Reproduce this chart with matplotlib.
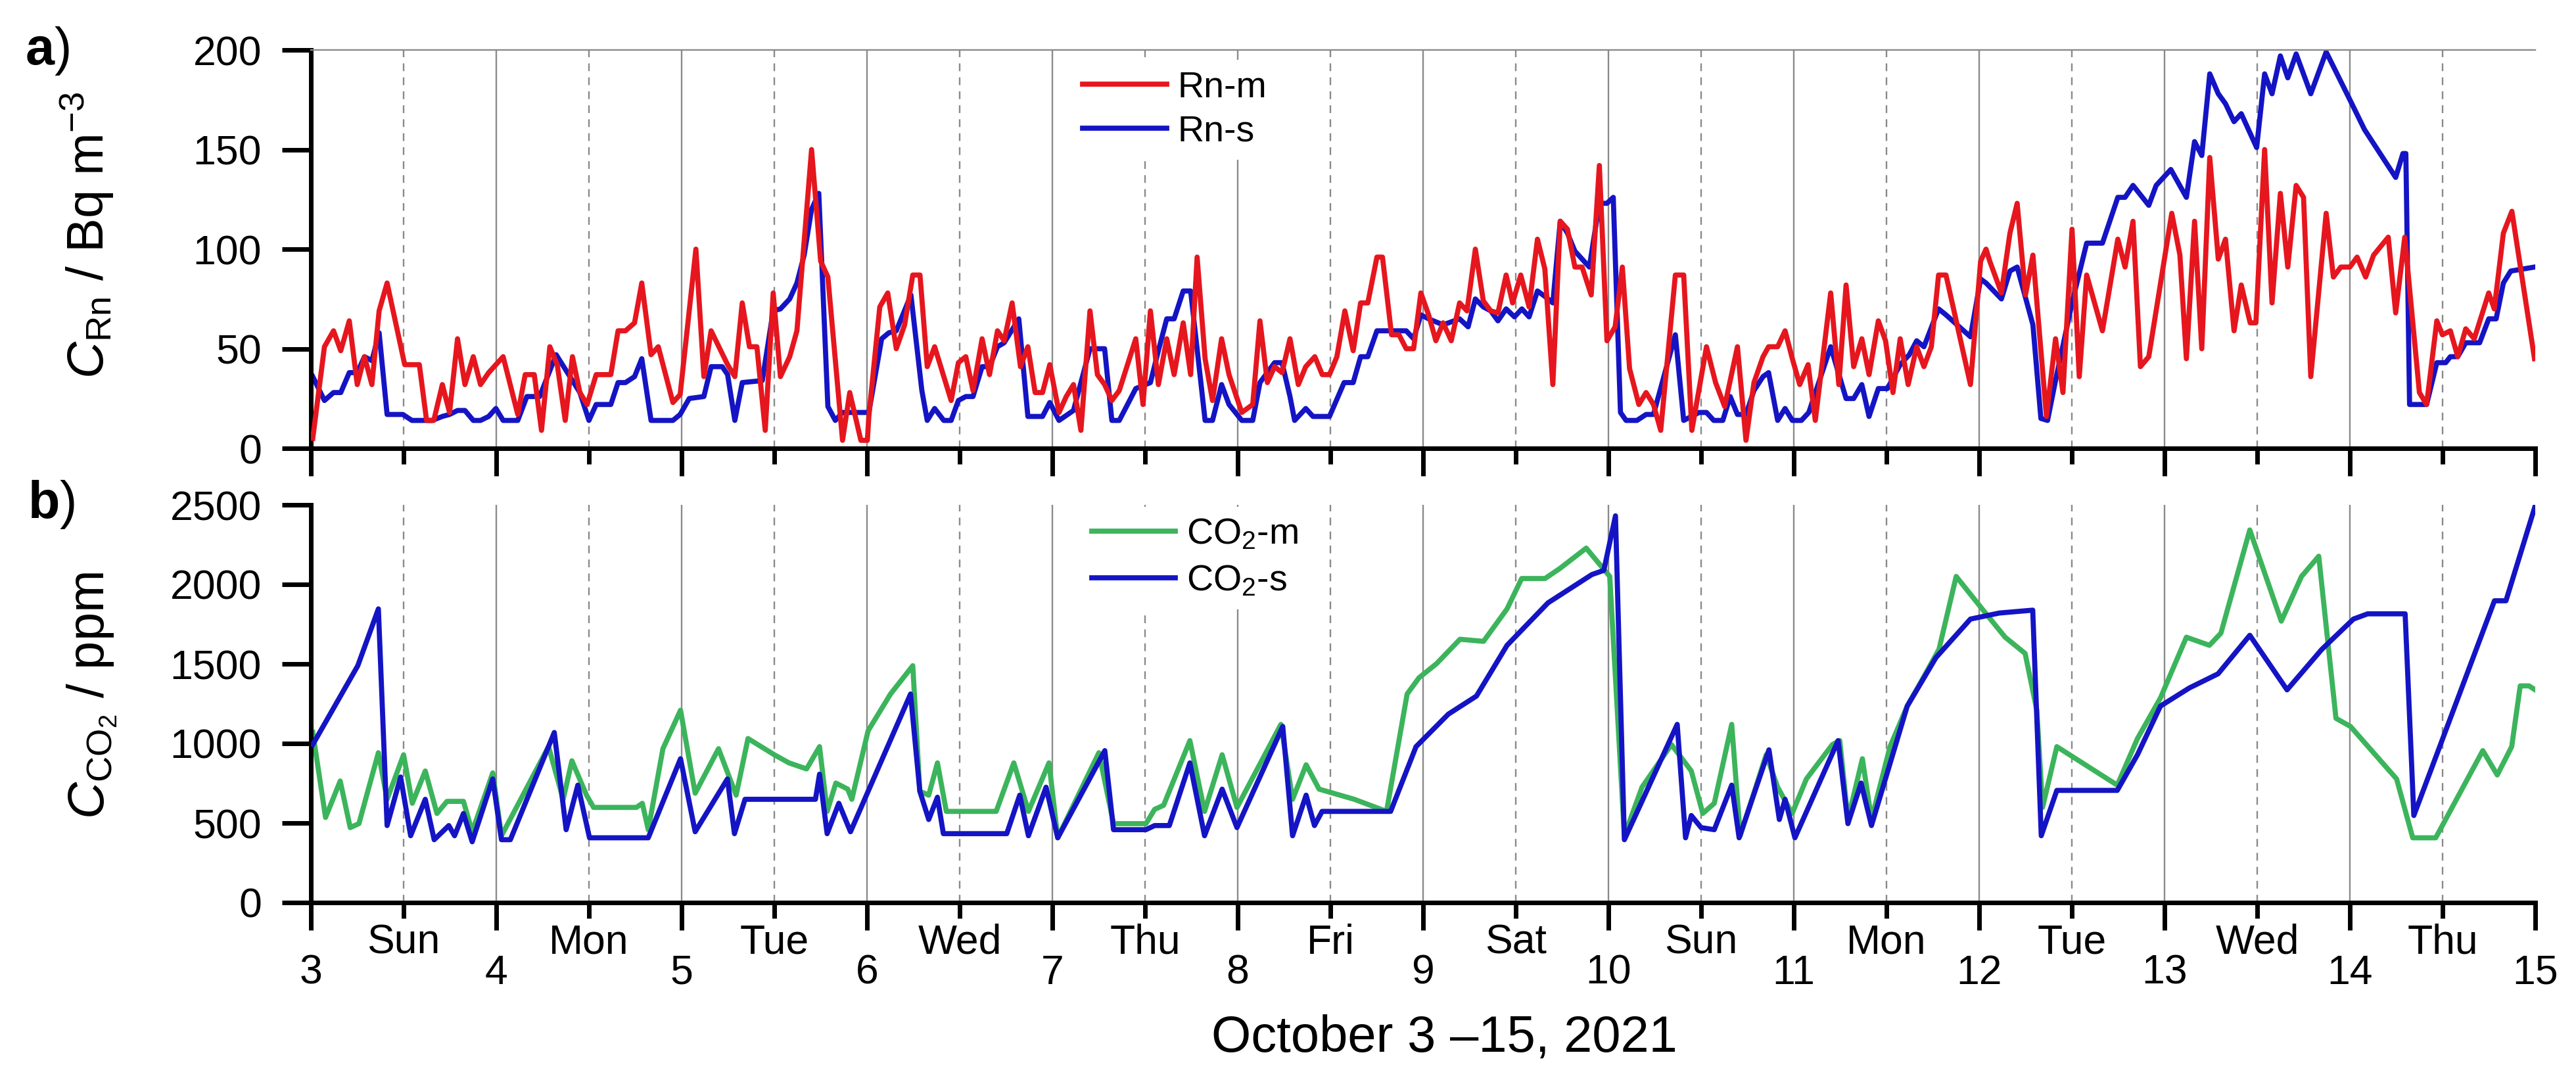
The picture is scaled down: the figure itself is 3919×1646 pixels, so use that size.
import matplotlib
matplotlib.use("Agg")
import matplotlib.pyplot as plt

plt.rcParams['font.family'] = ['Liberation Sans', 'DejaVu Sans']
plt.rcParams['mathtext.fontset'] = 'custom'
plt.rcParams['mathtext.rm'] = 'Liberation Sans'
plt.rcParams['mathtext.it'] = 'Liberation Sans:italic'
plt.rcParams['mathtext.bf'] = 'Liberation Sans:bold'

# ---------------- data ----------------
day_ticks = list(range(3, 16))
day_labels = [str(d) for d in day_ticks]
weekday_ticks = [d + 0.5 for d in range(3, 15)]
weekday_labels = ["Sun", "Mon", "Tue", "Wed", "Thu", "Fri", "Sat",
                  "Sun", "Mon", "Tue", "Wed", "Thu"]

rn_m_t = [3.01, 3.073, 3.122, 3.161, 3.207, 3.250, 3.289, 3.329, 3.368, 3.411, 3.506, 3.585, 3.624, 3.663,
          3.709, 3.748, 3.791, 3.831, 3.876, 3.915, 3.959, 3.998, 4.037, 4.116, 4.156, 4.205, 4.244, 4.289,
          4.329, 4.372, 4.411, 4.451, 4.490, 4.539, 4.618, 4.657, 4.697, 4.746, 4.785, 4.835, 4.874, 4.953,
          4.992, 5.077, 5.120, 5.159, 5.248, 5.287, 5.327, 5.366, 5.406, 5.451, 5.494, 5.533, 5.583, 5.622,
          5.701, 5.750, 5.789, 5.868, 5.907, 5.967, 6.002,
          6.010, 6.069, 6.112, 6.158, 6.203, 6.247, 6.286, 6.325, 6.365, 6.454, 6.493, 6.533, 6.572, 6.621,
          6.661, 6.704, 6.740, 6.783, 6.828, 6.868, 6.907, 6.947, 6.986, 7.036, 7.075, 7.114, 7.154, 7.203,
          7.243, 7.282, 7.321, 7.361, 7.450, 7.489, 7.529, 7.572, 7.617, 7.657, 7.706, 7.746, 7.781, 7.824,
          7.864, 7.913, 7.953, 8.022, 8.081, 8.120, 8.160, 8.199, 8.239, 8.282, 8.327, 8.367, 8.416, 8.456,
          8.495, 8.535, 8.578, 8.623, 8.663, 8.702, 8.751, 8.781, 8.830, 8.870, 8.909, 8.949, 8.988,
          9.030, 9.069, 9.108, 9.152, 9.197, 9.237, 9.282, 9.325, 9.365, 9.404, 9.448, 9.483, 9.527, 9.572,
          9.617, 9.657, 9.700, 9.740, 9.779, 9.819, 9.858, 9.907, 9.951, 9.992, 10.036, 10.075, 10.114,
          10.164, 10.203, 10.243, 10.282, 10.361, 10.406, 10.450, 10.529, 10.578, 10.627, 10.696, 10.742,
          10.785, 10.834, 10.864, 10.913, 10.953, 10.992, 11.032, 11.077, 11.116, 11.199, 11.243, 11.282,
          11.323, 11.367, 11.406, 11.456, 11.495, 11.535, 11.574, 11.617, 11.663, 11.702, 11.742, 11.781,
          11.821, 11.953, 12.008, 12.037,
          12.057, 12.120, 12.166, 12.205, 12.250, 12.290, 12.363, 12.412, 12.452, 12.501, 12.540, 12.580,
          12.665, 12.748, 12.787, 12.830, 12.870, 12.915, 13.039, 13.083, 13.118, 13.162, 13.201, 13.244,
          13.290, 13.329, 13.375, 13.414, 13.462, 13.493, 13.540, 13.580, 13.625, 13.665, 13.710, 13.750,
          13.789, 13.872, 13.911, 13.951, 14.000, 14.039, 14.085, 14.128, 14.207, 14.247, 14.296, 14.375,
          14.414, 14.469, 14.499, 14.542, 14.582, 14.625, 14.671, 14.749, 14.779, 14.828, 14.874, 14.996]
rn_m_v = [5, 51, 59, 49, 64, 32, 46, 32, 69, 83, 42, 42, 14, 14,
          32, 18, 55, 32, 46, 32, 38, 42, 46, 17, 37, 37, 9, 51,
          42, 14, 46, 28, 22, 37, 37, 59, 59, 63, 83, 47, 51, 23,
          27, 100, 36, 59, 42, 36, 73, 51, 51, 9, 78, 36, 46, 59,
          150, 94, 86, 4, 28, 4, 4,
          16, 71, 78, 50, 62, 87, 87, 41, 51, 24, 43, 46, 29, 55,
          37, 59, 54, 73, 41, 51, 28, 28, 42, 18, 26, 32, 9, 69,
          37, 32, 24, 29, 55, 22, 69, 32, 55, 37, 63, 37, 96, 45,
          24, 55, 37, 18, 22, 64, 33, 41, 38, 55, 32, 41, 46, 37,
          37, 46, 69, 49, 73, 73, 96, 96, 57, 57, 50, 50, 78,
          67, 54, 63, 54, 73, 69, 100, 74, 69, 68, 87, 73, 87, 71,
          105, 90, 32, 114, 110, 91, 91, 77, 142, 54, 61, 91, 40,
          22, 28, 22, 9, 87, 87, 9, 51, 33, 21, 51, 4,
          33, 46, 51, 51, 59, 45, 32, 42, 14, 78, 32, 82,
          41, 55, 37, 64, 54, 28, 55, 32, 51, 41, 51, 87,
          87, 32, 94, 100,
          94, 78, 108, 123, 77, 97, 16, 55, 28, 110, 36, 87,
          59, 105, 91, 114, 41, 46, 118, 97, 45, 114, 50, 146,
          95, 105, 59, 82, 63, 63, 150, 73, 128, 91, 132, 126,
          36, 118, 86, 91, 91, 96, 86, 97, 106, 68, 106, 28,
          22, 64, 57, 59, 46, 60, 55, 78, 70, 108, 119, 45]

rn_s_t = [3.01, 3.073, 3.122, 3.161, 3.207, 3.250, 3.289, 3.329, 3.368, 3.411, 3.496, 3.545, 3.654, 3.709,
          3.748, 3.791, 3.831, 3.876, 3.915, 3.959, 3.998, 4.037, 4.116, 4.165, 4.234, 4.323, 4.411, 4.451,
          4.500, 4.539, 4.618, 4.657, 4.697, 4.746, 4.785, 4.835, 4.953, 4.992, 5.041, 5.120, 5.159, 5.219,
          5.248, 5.287, 5.327, 5.435, 5.494, 5.533, 5.583, 5.622, 5.661, 5.701, 5.740, 5.789, 5.829, 5.868,
          5.986,
          6.010, 6.079, 6.118, 6.158, 6.237, 6.296, 6.325, 6.365, 6.414, 6.454, 6.493, 6.533, 6.572, 6.621,
          6.661, 6.704, 6.740, 6.819, 6.868, 6.947, 6.986, 7.036, 7.114, 7.203, 7.282, 7.321, 7.361, 7.450,
          7.529, 7.572, 7.617, 7.657, 7.706, 7.746, 7.824, 7.864, 7.913, 7.953, 8.022, 8.081, 8.120, 8.199,
          8.239, 8.282, 8.307, 8.367, 8.406, 8.495, 8.574, 8.623, 8.663, 8.702, 8.751, 8.909, 8.949, 8.988,
          9.030, 9.108, 9.197, 9.243, 9.282, 9.325, 9.365, 9.404, 9.448, 9.493, 9.533, 9.572, 9.617, 9.661,
          9.700, 9.740, 9.779, 9.819, 9.858, 9.897, 9.951, 9.992, 10.026, 10.065, 10.095, 10.154, 10.203,
          10.243, 10.361, 10.406, 10.489, 10.529, 10.568, 10.617, 10.657, 10.696, 10.742, 10.785, 10.834,
          10.864, 10.913, 10.953, 10.992, 11.041, 11.081, 11.199, 11.282, 11.323, 11.367, 11.406, 11.456,
          11.505, 11.574, 11.623, 11.663, 11.702, 11.781, 11.821, 11.953, 12.008, 12.037,
          12.120, 12.166, 12.205, 12.290, 12.333, 12.369, 12.412, 12.501, 12.580, 12.665, 12.748, 12.787,
          12.830, 12.915, 12.955, 13.034, 13.118, 13.162, 13.201, 13.244, 13.290, 13.329, 13.375, 13.414,
          13.497, 13.540, 13.580, 13.625, 13.665, 13.710, 13.789, 13.872, 14.000, 14.079, 14.247, 14.286,
          14.302, 14.322, 14.414, 14.469, 14.517, 14.542, 14.582, 14.625, 14.700, 14.749, 14.789, 14.828,
          14.868, 14.996]
rn_s_v = [36, 24, 28, 28, 38, 38, 46, 44, 58, 17, 17, 14, 14, 16,
          17, 19, 19, 14, 14, 16, 20, 14, 14, 26, 26, 47, 34, 28,
          14, 22, 22, 33, 33, 36, 45, 14, 14, 17, 25, 26, 41, 41,
          37, 14, 33, 34, 69, 70, 75, 83, 97, 120, 128, 21, 14, 18,
          18,
          18, 55, 58, 59, 77, 29, 14, 20, 14, 14, 24, 26, 26, 41,
          41, 51, 53, 65, 16, 16, 23, 14, 19, 50, 50, 14, 14, 30,
          33, 49, 65, 65, 79, 79, 14, 14, 32, 22, 14, 14, 33, 43,
          43, 26, 14, 20, 16, 16, 33, 33, 46, 46, 59, 59, 55, 67,
          65, 62, 65, 61, 75, 71, 69, 64, 70, 66, 70, 66, 79, 76,
          73, 114, 108, 99, 95, 91, 123, 123, 126, 18, 14, 14, 17,
          17, 57, 14, 18, 18, 14, 14, 26, 17, 17, 29, 36,
          38, 14, 20, 14, 14, 18, 51, 25, 25, 32, 16, 30,
          30, 42, 47, 54, 51, 70, 67, 56, 85, 83,
          75, 89, 91, 62, 15, 14, 34, 73, 103, 103, 126, 126,
          132, 122, 132, 140, 126, 154, 147, 188, 178, 173, 164, 168,
          151, 188, 178, 197, 186, 198, 178, 199, 175, 160, 136, 148,
          148, 22, 22, 43, 43, 46, 46, 53, 53, 65, 65, 83,
          89, 91]

co2_m_t = [3.01, 3.079, 3.158, 3.212, 3.259, 3.364, 3.411, 3.500, 3.547, 3.617, 3.680, 3.734, 3.823,
           3.870, 3.981, 4.028, 4.282, 4.361, 4.408, 4.487, 4.525, 4.756, 4.788, 4.820, 4.899, 4.994,
           5.073, 5.199, 5.294, 5.358, 5.500, 5.579, 5.674, 5.744, 5.785, 5.832, 5.896, 5.918, 6.006,
           6.127, 6.247, 6.285, 6.333, 6.380, 6.428, 6.697, 6.792, 6.871, 6.982, 7.029, 7.251, 7.330,
           7.505, 7.552, 7.600, 7.742, 7.821, 7.916, 7.996, 8.233, 8.296, 8.369, 8.439, 8.629, 8.803,
           8.914, 8.978, 9.073, 9.199, 9.326, 9.453, 9.532, 9.658, 9.738, 9.880, 10.007, 10.086, 10.181,
           10.340, 10.447, 10.509, 10.571, 10.665, 10.711, 10.851, 10.913, 10.991, 11.068, 11.208, 11.248,
           11.292, 11.370, 11.419, 11.519, 11.612, 11.674, 11.783, 11.876, 12.016, 12.140, 12.248, 12.311,
           12.342, 12.419, 12.745, 12.854, 12.978, 13.071, 13.118, 13.242, 13.304, 13.460, 13.630, 13.739,
           13.832, 13.925, 14.003, 14.252, 14.339, 14.463, 14.717, 14.795, 14.873, 14.919, 14.966, 15.0]
co2_m_v = [1070, 535, 764, 471, 496, 942, 649, 929, 624, 827, 560, 636, 636,
           445, 815, 420, 980, 649, 891, 675, 598, 598, 624, 458, 967, 1209,
           687, 967, 675, 1031, 929, 878, 840, 980, 573, 751, 713, 649, 1080,
           1311, 1489, 700, 675, 878, 573, 573, 878, 573, 878, 407, 942, 496,
           496, 586, 611, 1018, 573, 929, 598, 1120, 649, 866, 713, 649, 573,
           1311, 1413, 1502, 1655, 1642, 1846, 2037, 2037, 2100, 2228, 2050, 420, 725,
           993, 827, 560, 624, 1120, 420, 929, 725, 560, 777, 993, 1018,
           522, 904, 522, 980, 1235, 1362, 1591, 2050, 1846, 1668, 1566, 1209,
           598, 980, 738, 1031, 1286, 1540, 1668, 1617, 1693, 2342, 1769, 2050,
           2177, 1158, 1107, 777, 407, 407, 955, 802, 980, 1362, 1362, 1337]

co2_s_t = [3.01, 3.253, 3.364, 3.411, 3.484, 3.538, 3.617, 3.665, 3.744, 3.775, 3.823, 3.870, 3.981,
           4.028, 4.076, 4.313, 4.377, 4.440, 4.503, 4.820, 4.994, 5.073, 5.247, 5.285, 5.342, 5.722,
           5.744, 5.785, 5.848, 5.911, 6.235, 6.285, 6.333, 6.380, 6.412, 6.754, 6.824, 6.871, 6.966,
           7.029, 7.283, 7.330, 7.505, 7.552, 7.631, 7.742, 7.821, 7.916, 7.996, 8.243, 8.296, 8.369,
           8.414, 8.455, 8.825, 8.962, 9.136, 9.288, 9.453, 9.674, 9.911, 9.975, 10.038, 10.086, 10.371,
           10.416, 10.447, 10.500, 10.571, 10.665, 10.705, 10.866, 10.922, 10.953, 11.006, 11.239, 11.292,
           11.363, 11.419, 11.612, 11.767, 11.953, 12.109, 12.289, 12.335, 12.419, 12.745, 12.854, 12.978,
           13.134, 13.289, 13.460, 13.661, 13.848, 14.019, 14.096, 14.298, 14.345, 14.780, 14.842, 15.0]
co2_s_v = [993, 1489, 1846, 484, 789, 420, 649, 395, 484, 420, 560, 382, 777,
           395, 395, 1069, 458, 738, 407, 407, 904, 445, 777, 433, 649, 649,
           807, 433, 624, 445, 1311, 700, 522, 662, 433, 433, 675, 420, 725,
           407, 955, 458, 458, 484, 484, 878, 420, 713, 471, 1107, 420, 675,
           484, 573, 573, 980, 1184, 1298, 1617, 1884, 2062, 2088, 2431, 395, 1120,
           407, 547, 471, 458, 738, 407, 960, 522, 649, 407, 1018, 496,
           751, 484, 1235, 1540, 1782, 1820, 1838, 420, 705, 705, 929, 1235,
           1349, 1438, 1680, 1337, 1591, 1782, 1815, 1815, 547, 1897, 1897, 2495]

# ---------------- styling ----------------
W, H = 3919, 1646
RED, BLUE, GREEN = '#E6161E', '#1414C4', '#3CB45C'
GRID = '#8A8A8A'
TICK_FS = 45
LW = 5.6

fig = plt.figure(figsize=(W / 100, H / 100), dpi=100)
ax1 = fig.add_axes([473 / W, 1 - 682 / H, 3384 / W, 606 / H])
ax2 = fig.add_axes([473 / W, 1 - 1373 / H, 3384 / W, 605 / H])


def style(ax, ymax, yticks, show_x_labels):
    ax.set_xlim(3, 15)
    ax.set_ylim(0, ymax)
    ax.vlines(day_ticks[1:-1], 0, ymax, colors=GRID, linewidth=1.7, zorder=0)
    ax.vlines(weekday_ticks, 0, ymax, colors=GRID, linewidth=1.7,
              linestyles=(0, (5, 4)), zorder=0)
    ax.set_yticks(yticks)
    ax.set_xticks(day_ticks)
    ax.set_xticks(weekday_ticks, minor=True)
    if show_x_labels:
        ax.set_xticklabels(day_labels)
        ax.set_xticklabels(weekday_labels, minor=True)
    else:
        ax.set_xticklabels([])
        ax.set_xticklabels([], minor=True)
    ax.tick_params(axis='y', direction='out', length=32, width=5, pad=22,
                   labelsize=TICK_FS, color='black')
    ax.tick_params(axis='x', which='major', direction='out', length=30, width=5,
                   pad=26, labelsize=TICK_FS)
    ax.tick_params(axis='x', which='minor', direction='out', length=17, width=5,
                   pad=6, labelsize=TICK_FS)
    for s in ['left', 'bottom']:
        ax.spines[s].set_linewidth(5)
        ax.spines[s].set_color('black')
    ax.spines['right'].set_visible(False)


style(ax1, 200, [0, 50, 100, 150, 200], False)
ax1.spines['top'].set_color(GRID)
ax1.spines['top'].set_linewidth(1.7)
style(ax2, 2500, [0, 500, 1000, 1500, 2000, 2500], True)
ax2.spines['top'].set_visible(False)

ax1.plot(rn_m_t, rn_m_v, color=RED, lw=LW, label='Rn-m', zorder=3)
ax1.plot(rn_s_t, rn_s_v, color=BLUE, lw=LW, label='Rn-s', zorder=2)
ax2.plot(co2_m_t, co2_m_v, color=GREEN, lw=LW, label='CO$_2$-m', zorder=2)
ax2.plot(co2_s_t, co2_s_v, color=BLUE, lw=LW, label='CO$_2$-s', zorder=3)

leg_kw = dict(loc='upper left', fontsize=40, handlelength=2.3, handletextpad=0.3,
              borderpad=0.3, borderaxespad=0, frameon=True, framealpha=1,
              facecolor='white', edgecolor='none')
l1 = ax1.legend(bbox_to_anchor=(0.342, 0.975), labelspacing=0.26, **leg_kw)
l1.set_zorder(5)
l2 = ax2.legend(bbox_to_anchor=(0.346, 0.995), labelspacing=0.34, **leg_kw)
l2.set_zorder(5)

fig.text(158 / W, 1 - 358 / H, r"$C_{\mathrm{Rn}}$ / Bq m$^{-3}$", rotation=90,
         rotation_mode='anchor', ha='center', va='baseline', fontsize=56)
fig.text(158 / W, 1 - 1058 / H, r"$C_{\mathrm{CO}_2}$ / ppm", rotation=90,
         rotation_mode='anchor', ha='center', va='baseline', fontsize=56)
fig.text(38 / W, 1 - 98 / H, r"$\mathbf{a}$)", ha='left', va='baseline', fontsize=57)
fig.text(42 / W, 1 - 788 / H, r"$\mathbf{b}$)", ha='left', va='baseline', fontsize=57)
fig.text(2197 / W, 1 - 1580 / H, "October 3 \u201315, 2021", ha='center', va='center',
         fontsize=56)

fig.savefig("out.png", dpi=100)
